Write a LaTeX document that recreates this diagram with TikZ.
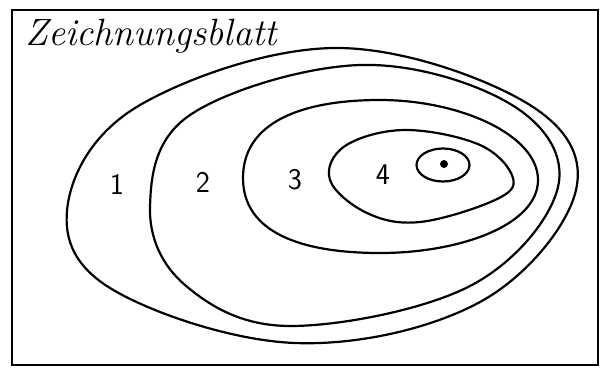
\documentclass[tikz,border=0pt]{standalone}
\usepackage{fontspec}
\begin{document}
\begin{tikzpicture}[x=1pt,y=-1pt,
  contour/.style={line width=2.2pt, line join=round},
  framebox/.style={line width=2.2pt},
  numlabel/.style={font=\sffamily\fontsize{30}{32}\selectfont},
  titlelabel/.style={font=\itshape\fontsize{38}{40}\selectfont, anchor=base west, inner sep=0pt}]
\useasboundingbox (0,0) rectangle (601,367);
% frame
\draw[framebox] (12,10) rectangle (598,365);
% title
\node[titlelabel] (title) at (25,45) {Zeichnungsblatt};
% contour 1
\draw[contour] plot[smooth cycle, tension=0.62] coordinates {(68,203) (110,288) (295,343) (480,302) (576,190) (525,102) (335,48) (140,105)};
% contour 2
\draw[contour] plot[smooth cycle, tension=0.62] coordinates {(150,207) (185,285) (290,326) (470,286) (558,187) (512,105) (360,65) (190,115)};
% contour 3
\draw[contour] (243,178) .. controls (243,122) and (302,100) .. (380,100)
  .. controls (460,100) and (538,135) .. (538,180)
  .. controls (538,225) and (460,253) .. (380,253)
  .. controls (300,253) and (243,232) .. (243,178) -- cycle;
% contour 4
\draw[contour] plot[smooth cycle, tension=0.62] coordinates {(330,180) (367,213) (420,222) (495,200) (513,178) (480,145) (405,130) (345,146)};
% contour 5 (summit)
\draw[contour] (443,165) ellipse [x radius=26.5, y radius=16.5];
\fill (444,164) circle (4);
% labels
\node[numlabel] (l1) at (117,184) {1};
\node[numlabel] (l2) at (203,182) {2};
\node[numlabel] (l3) at (295,180) {3};
\node[numlabel] (l4) at (383,175) {4};
\end{tikzpicture}
\end{document}
